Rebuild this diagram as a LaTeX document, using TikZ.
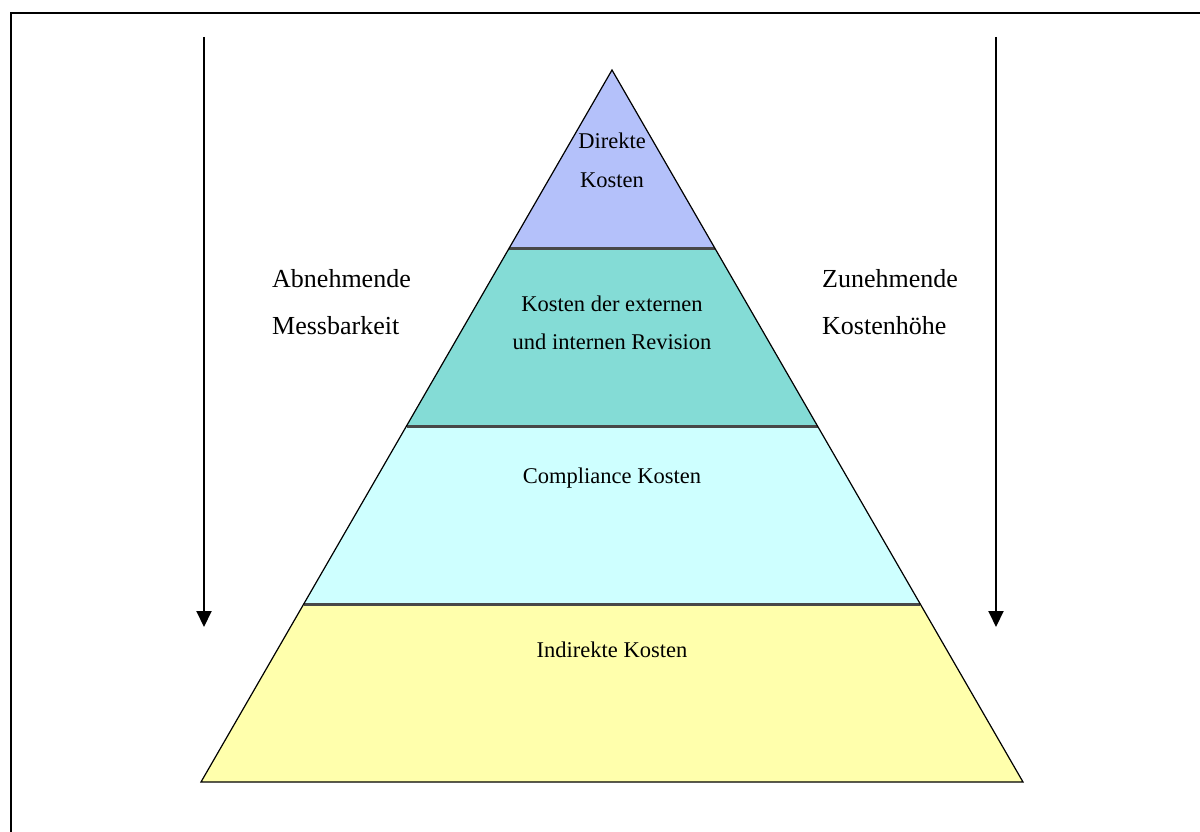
\documentclass[tikz,border=0pt]{standalone}
\usepackage{fontspec}
\setmainfont{Liberation Serif}
\usetikzlibrary{calc,arrows.meta}
\definecolor{lyrA}{RGB}{180,193,250}
\definecolor{lyrB}{RGB}{132,220,214}
\definecolor{lyrC}{RGB}{206,255,255}
\definecolor{lyrD}{RGB}{255,255,172}
\definecolor{sepgray}{RGB}{72,72,72}
\tikzset{
  inner/.style={font=\fontsize{22.5}{27}\selectfont, anchor=base, inner sep=0pt},
  side/.style={font=\fontsize{26}{31}\selectfont, anchor=base west, inner sep=0pt},
  sep/.style={draw=sepgray, line width=3pt},
  outline/.style={draw=black, line width=1.2pt, line join=miter},
  downarrow/.style={line width=2pt, -{Triangle[length=16pt,width=15pt]}},
  frameline/.style={line width=2.5pt}
}
\begin{document}
\begin{tikzpicture}[x=1pt,y=-1pt]
\useasboundingbox (0,0) rectangle (1200,832);
\fill[white] (0,0) rectangle (1200,832);
% frame (only top and left visible)
\coordinate (f1) at (11,832);
\coordinate (f2) at (11,13);
\coordinate (f3) at (1200,13);
\draw[frameline] (f1) -- (f2) -- (f3);
% pyramid
\coordinate (A) at (612,70);
\coordinate (BL) at (201,782);
\coordinate (BR) at (1023,782);
\coordinate (L1) at ($(A)!0.25!(BL)$);
\coordinate (R1) at ($(A)!0.25!(BR)$);
\coordinate (L2) at ($(A)!0.5!(BL)$);
\coordinate (R2) at ($(A)!0.5!(BR)$);
\coordinate (L3) at ($(A)!0.75!(BL)$);
\coordinate (R3) at ($(A)!0.75!(BR)$);
\fill[lyrA] (A) -- (L1) -- (R1) -- cycle;
\fill[lyrB] (L1) -- (L2) -- (R2) -- (R1) -- cycle;
\fill[lyrC] (L2) -- (L3) -- (R3) -- (R2) -- cycle;
\fill[lyrD] (L3) -- (BL) -- (BR) -- (R3) -- cycle;
\draw[sep] (L1) -- (R1);
\draw[sep] (L2) -- (R2);
\draw[sep] (L3) -- (R3);
\draw[outline] (A) -- (BL) -- (BR) -- cycle;
% layer texts
\node[inner] (t1a) at (612,149) {Direkte};
\node[inner] (t1b) at (612,188) {Kosten};
\node[inner] (t2a) at (612,311) {Kosten der externen};
\node[inner] (t2b) at (612,349) {und internen Revision};
\node[inner] (t3) at (612,483) {Compliance Kosten};
\node[inner] (t4) at (612,657) {Indirekte Kosten};
% side labels
\node[side] (la) at (272,287) {Abnehmende};
\node[side] (lb) at (272,334) {Messbarkeit};
\node[side] (ra) at (822,287) {Zunehmende};
\node[side] (rb) at (822,334) {Kostenhöhe};
% arrows
\coordinate (a1s) at (204,37);
\coordinate (a1e) at (204,627);
\coordinate (a2s) at (996,37);
\coordinate (a2e) at (996,627);
\draw[downarrow] (a1s) -- (a1e);
\draw[downarrow] (a2s) -- (a2e);
\end{tikzpicture}
\end{document}
